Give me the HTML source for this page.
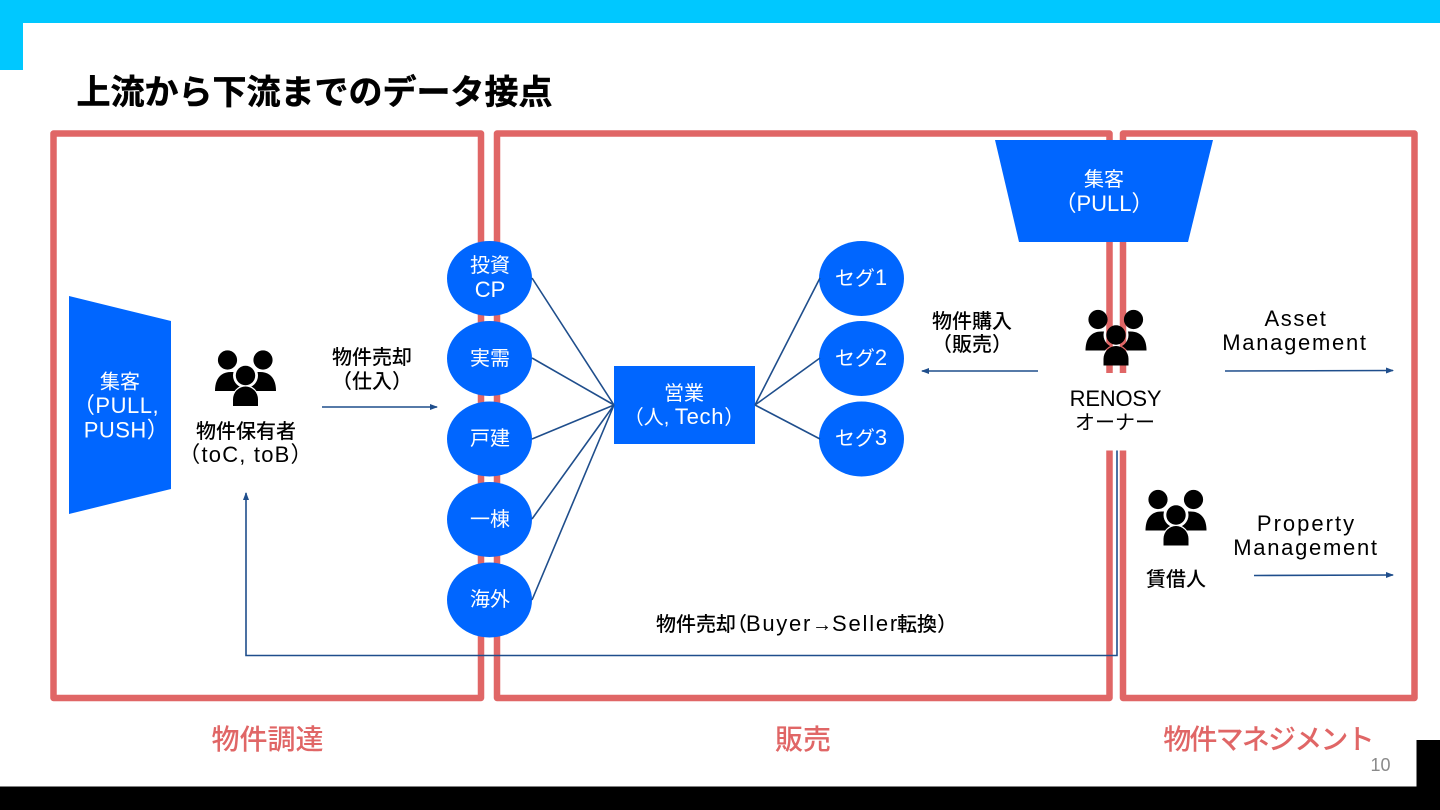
<!DOCTYPE html>
<html lang="ja">
<head>
<meta charset="utf-8">
<title>上流から下流までのデータ接点</title>
<style>
html,body{margin:0;padding:0;background:#fff;width:1440px;height:810px;overflow:hidden}
svg{display:block}
text{font-family:"Liberation Sans","Noto Sans CJK JP",sans-serif;font-size:20px;font-weight:500;fill:#000;text-anchor:middle}
.w{fill:#fff;font-weight:400}
.r{fill:#e06666;font-size:28px}
.l{stroke:#1f4e8c;stroke-width:1.6;fill:none}
.m{font-size:22px;letter-spacing:1.700px;font-weight:400}
.d{font-size:22px}
.k{font-size:22px;font-weight:400}
</style>
</head>
<body>
<svg width="1440" height="810" viewBox="0 0 1440 810" xmlns="http://www.w3.org/2000/svg">
<defs>
<marker id="a" markerWidth="10" markerHeight="8" refX="7" refY="3" orient="auto" markerUnits="userSpaceOnUse"><path d="M0 0L8 3L0 6Z" fill="#1f4e8c"/></marker>
<mask id="mk" maskUnits="userSpaceOnUse" x="-40" y="-40" width="80" height="80">
<rect x="-40" y="-40" width="80" height="80" fill="#fff"/>
<circle cx=".5" cy="0" r="12.500" fill="#000"/>
<path d="M-12 30.500V24a12.500 13 0 0 1 25 0v6.500Z" fill="#000" stroke="#000" stroke-width="2.500"/>
</mask>
<g id="p">
<circle cx="-17.500" cy="-15.500" r="9.600" fill="#000"/>
<circle cx="18" cy="-15.500" r="9.600" fill="#000"/>
<path d="M-30 15.500C-30 3-24-3.500-14-3.500H15C25-3.500 31 3 31 15.500Z" fill="#000" mask="url(#mk)"/>
<circle cx=".5" cy="0" r="9.700" fill="#000"/>
<path d="M-12 30.500V24a12.500 13 0 0 1 25 0v6.500Z" fill="#000"/>
</g>
</defs>
<rect width="1440" height="810" fill="#fff"/>
<rect x="0" y="0" width="1440" height="23" fill="#00c8ff"/>
<rect x="0" y="0" width="23" height="70" fill="#00c8ff"/>
<rect x="0" y="786.500" width="1440" height="24" fill="#000"/>
<rect x="1416.500" y="740" width="24" height="70" fill="#000"/>
<text x="314.500" y="104" style="font-size:34px;font-weight:700;stroke:#000;stroke-width:.5">上流から下流までのデータ接点</text>
<g fill="none" stroke="#e06666" stroke-width="6.500" stroke-linejoin="round">
<rect x="53.500" y="133.500" width="427.500" height="564.500"/>
<rect x="497" y="133.500" width="612.500" height="564.500"/>
<rect x="1123" y="133.500" width="291.500" height="564.500"/>
</g>
<rect x="1060" y="373" width="110" height="77.500" fill="#fff"/>
<polygon points="995,140 1213,140 1188,242 1019,242" fill="#0066ff"/>
<polygon points="69,296 171,321 171,489 69,514" fill="#0066ff"/>
<text class="w" x="1104" y="186">集客</text>
<text class="w k" x="1104" y="211">（PULL）</text>
<text class="w" x="120" y="388.500">集客</text>
<text class="w k" x="116" y="413" style="letter-spacing:.5px">（PULL,</text>
<text class="w k" x="126.500" y="437.500" style="letter-spacing:.5px">PUSH）</text>
<g fill="#0066ff">
<ellipse cx="489.500" cy="278.500" rx="42.500" ry="37.500"/>
<ellipse cx="489.500" cy="358.500" rx="42.500" ry="37.500"/>
<ellipse cx="489.500" cy="439" rx="42.500" ry="37.500"/>
<ellipse cx="489.500" cy="519.500" rx="42.500" ry="37.500"/>
<ellipse cx="489.500" cy="600" rx="42.500" ry="37.500"/>
<ellipse cx="861.500" cy="278.500" rx="42.500" ry="37.500"/>
<ellipse cx="861.500" cy="358.500" rx="42.500" ry="37.500"/>
<ellipse cx="861.500" cy="439" rx="42.500" ry="37.500"/>
<rect x="614" y="366" width="141" height="78"/>
</g>
<text class="w" x="490" y="272">投資</text>
<text class="w d" x="490" y="297">CP</text>
<text class="w" x="490" y="365">実需</text>
<text class="w" x="490" y="445">戸建</text>
<text class="w" x="490" y="526">一棟</text>
<text class="w" x="490" y="606">海外</text>
<text class="w" x="861" y="285">セグ<tspan class="d">1</tspan></text>
<text class="w" x="861" y="365">セグ<tspan class="d">2</tspan></text>
<text class="w" x="861" y="445">セグ<tspan class="d">3</tspan></text>
<text class="w" x="684" y="400">営業</text>
<text class="w" x="684" y="424">（人, <tspan class="d" style="letter-spacing:.7px">Tech</tspan>）</text>
<g class="l">
<path d="M532 278L614 405M532 358L614 405M532 439L614 405M532 519L614 405M532 600L614 405"/>
<path d="M755 405L820 278M755 405L820 358M755 405L820 439"/>
<path d="M322 407H437" marker-end="url(#a)"/>
<path d="M1038 371H922" marker-end="url(#a)"/>
<path d="M1225 371L1393 370.500" marker-end="url(#a)"/>
<path d="M1254 575.500L1393 575" marker-end="url(#a)"/>
<path d="M1117 450.500V655.500H246V493" marker-end="url(#a)"/>
</g>
<use href="#p" x="245" y="375.500"/>
<use href="#p" x="1115.500" y="335"/>
<use href="#p" x="1175.500" y="515"/>
<text x="246" y="438">物件保有者</text>
<text class="k" x="246" y="462" style="letter-spacing:1.200px">（toC, toB）</text>
<text x="372" y="364">物件売却</text>
<text x="372" y="388">（仕入）</text>
<text x="972" y="328">物件購入</text>
<text x="972" y="351">（販売）</text>
<text class="k" x="1115.500" y="406" style="letter-spacing:-.2px">RENOSY</text>
<text x="1115" y="429" style="font-weight:400">オーナー</text>
<text class="k" x="1296" y="326" style="letter-spacing:1.600px">Asset</text>
<text class="m" x="1295" y="350">Management</text>
<text class="k" x="1306.500" y="531" style="letter-spacing:2px">Property</text>
<text class="m" x="1306" y="555">Management</text>
<text x="1176" y="586">賃借人</text>
<text y="631" style="text-anchor:start"><tspan x="656">物件売却</tspan><tspan x="727">（</tspan><tspan class="k" x="746" style="letter-spacing:1.700px">Buyer</tspan><tspan x="812">→</tspan><tspan class="k" x="832" style="letter-spacing:1.800px">Seller</tspan><tspan x="897">転換</tspan><tspan x="937">）</tspan></text>
<text class="r" x="267.500" y="749">物件調達</text>
<text class="r" x="803" y="749">販売</text>
<text class="r" x="1268" y="749" style="letter-spacing:-1.800px">物件マネジメント</text>
<text x="1380.500" y="771" style="font-size:18px;font-weight:400;fill:#8a8a8a">10</text>
</svg>
</body>
</html>
